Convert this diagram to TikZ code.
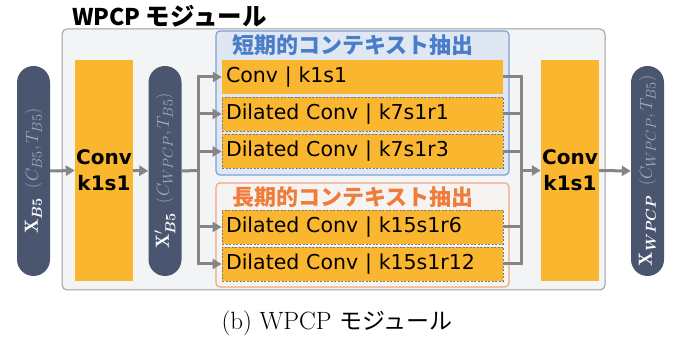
\documentclass[tikz,border=0pt]{standalone}
\usepackage{amsmath}
\usepackage{fontspec}
\newfontfamily\dejavu{DejaVu Sans}
\newfontfamily\jp{Noto Sans CJK JP}
\usetikzlibrary{arrows.meta}
\definecolor{convfill}{HTML}{FBB630}
\definecolor{pillfill}{HTML}{4A5670}
\definecolor{pilltext}{HTML}{A3ABBB}
\definecolor{arrowgray}{HTML}{858585}
\definecolor{outerfill}{HTML}{F3F4F6}
\definecolor{outerline}{HTML}{9C9C9C}
\definecolor{shortfill}{HTML}{DFE7F3}
\definecolor{shortline}{HTML}{7DA0D6}
\definecolor{shorttext}{HTML}{4A7DC9}
\definecolor{longfill}{HTML}{F6F4F3}
\definecolor{longline}{HTML}{F2A582}
\definecolor{longtext}{HTML}{F07C3A}
\definecolor{dashline}{HTML}{7A7A7A}
\tikzset{
  pill/.style={fill=pillfill, rounded corners=16.5pt, minimum width=210pt, minimum height=33pt, inner sep=0pt, rotate=90, text=white, font=\fontsize{19}{22}\selectfont},
  bigconv/.style={fill=convfill, minimum width=58pt, minimum height=221pt, inner sep=0pt, align=center, font=\dejavu\bfseries\fontsize{20}{26}\selectfont},
  opbox/.style={fill=convfill, minimum height=34pt, text width=273pt, inner xsep=4pt, inner ysep=0pt, align=left, font=\dejavu\fontsize{20.5}{24}\selectfont},
  dashbox/.style={opbox, draw=dashline, line width=0.8pt, dash pattern=on 2pt off 1.5pt},
  linkline/.style={draw=arrowgray, line width=3pt},
  arr/.style={linkline, -{Triangle[length=9pt,width=10pt]}},
  grouptitle/.style={font=\jp\bfseries\fontsize{22}{24}\selectfont, inner sep=0pt}
}
\begin{document}
\begin{tikzpicture}[x=1pt,y=-1pt]
\useasboundingbox (0,0) rectangle (691,347);
% outer module
\node[draw=outerline, fill=outerfill, line width=1pt, rounded corners=5pt, minimum width=543pt, minimum height=261pt, inner sep=0pt] (outer) at (333.5,159.5) {};
\node[anchor=west, inner sep=0pt, font=\jp\bfseries\fontsize{23}{26}\selectfont] (title) at (72,16.5) {WPCP {\fontsize{24.5}{26}\selectfont モジュール}};
% groups
\node[draw=shortline, fill=shortfill, line width=1.2pt, rounded corners=4pt, minimum width=293pt, minimum height=144pt, inner sep=0pt] (short) at (362.5,103) {};
\node[draw=longline, fill=longfill, line width=1.2pt, rounded corners=4pt, minimum width=293pt, minimum height=104pt, inner sep=0pt] (long) at (362.5,235) {};
\node[grouptitle, text=shorttext] (shorttitle) at (353,45) {短期的コンテキスト抽出};
\node[grouptitle, text=longtext] (longtitle) at (353,197) {長期的コンテキスト抽出};
% pills
\node[pill] (xb5) at (33.5,171) {$\mathbf{X}_{\boldsymbol{B5}}$\enspace{\color{pilltext}$(C_{B5},T_{B5})$}};
\node[pill] (xp) at (165,171) {$\mathbf{X}'_{\boldsymbol{B5}}$\enspace{\color{pilltext}$(C_{WPCP},T_{B5})$}};
\node[pill] (xw) at (647.5,171) {$\mathbf{X}_{\boldsymbol{WPCP}}$\enspace{\color{pilltext}$(C_{WPCP},T_{B5})$}};
% big convs
\node[bigconv] (conv1) at (104,170.5) {Conv\\k1s1};
\node[bigconv] (conv2) at (570,170.5) {Conv\\k1s1};
% op boxes
\node[opbox] (b1) at (362.5,77) {Conv | k1s1};
\node[dashbox] (b2) at (362.5,114) {Dilated Conv | k7s1r1};
\node[dashbox] (b3) at (362.5,151.5) {Dilated Conv | k7s1r3};
\node[dashbox] (b4) at (362.5,227) {Dilated Conv | k15s1r6};
\node[dashbox] (b5) at (362.5,264) {Dilated Conv | k15s1r12};
% connectors
\coordinate (busL) at (198,170.5);
\coordinate (busR) at (521,170.5);
\draw[arr] (xb5.south) -- (conv1.west);
\draw[arr] (conv1.east) -- (xp.north);
\draw[linkline] (xp.south) -- (busL);
\foreach \b in {b1,b2,b3,b4,b5}{
  \draw[arr] (busL) |- (\b.west);
  \draw[linkline] (\b.east) -| (busR);
}
\draw[arr] (busR) -- (conv2.west);
\draw[arr] (conv2.east) -- (xw.north);
% caption
\node[inner sep=0pt, font=\fontsize{25}{28}\selectfont] (caption) at (337,323) {(b) WPCP {\jp\fontsize{23}{26}\selectfont モジュール}};
\end{tikzpicture}
\end{document}
